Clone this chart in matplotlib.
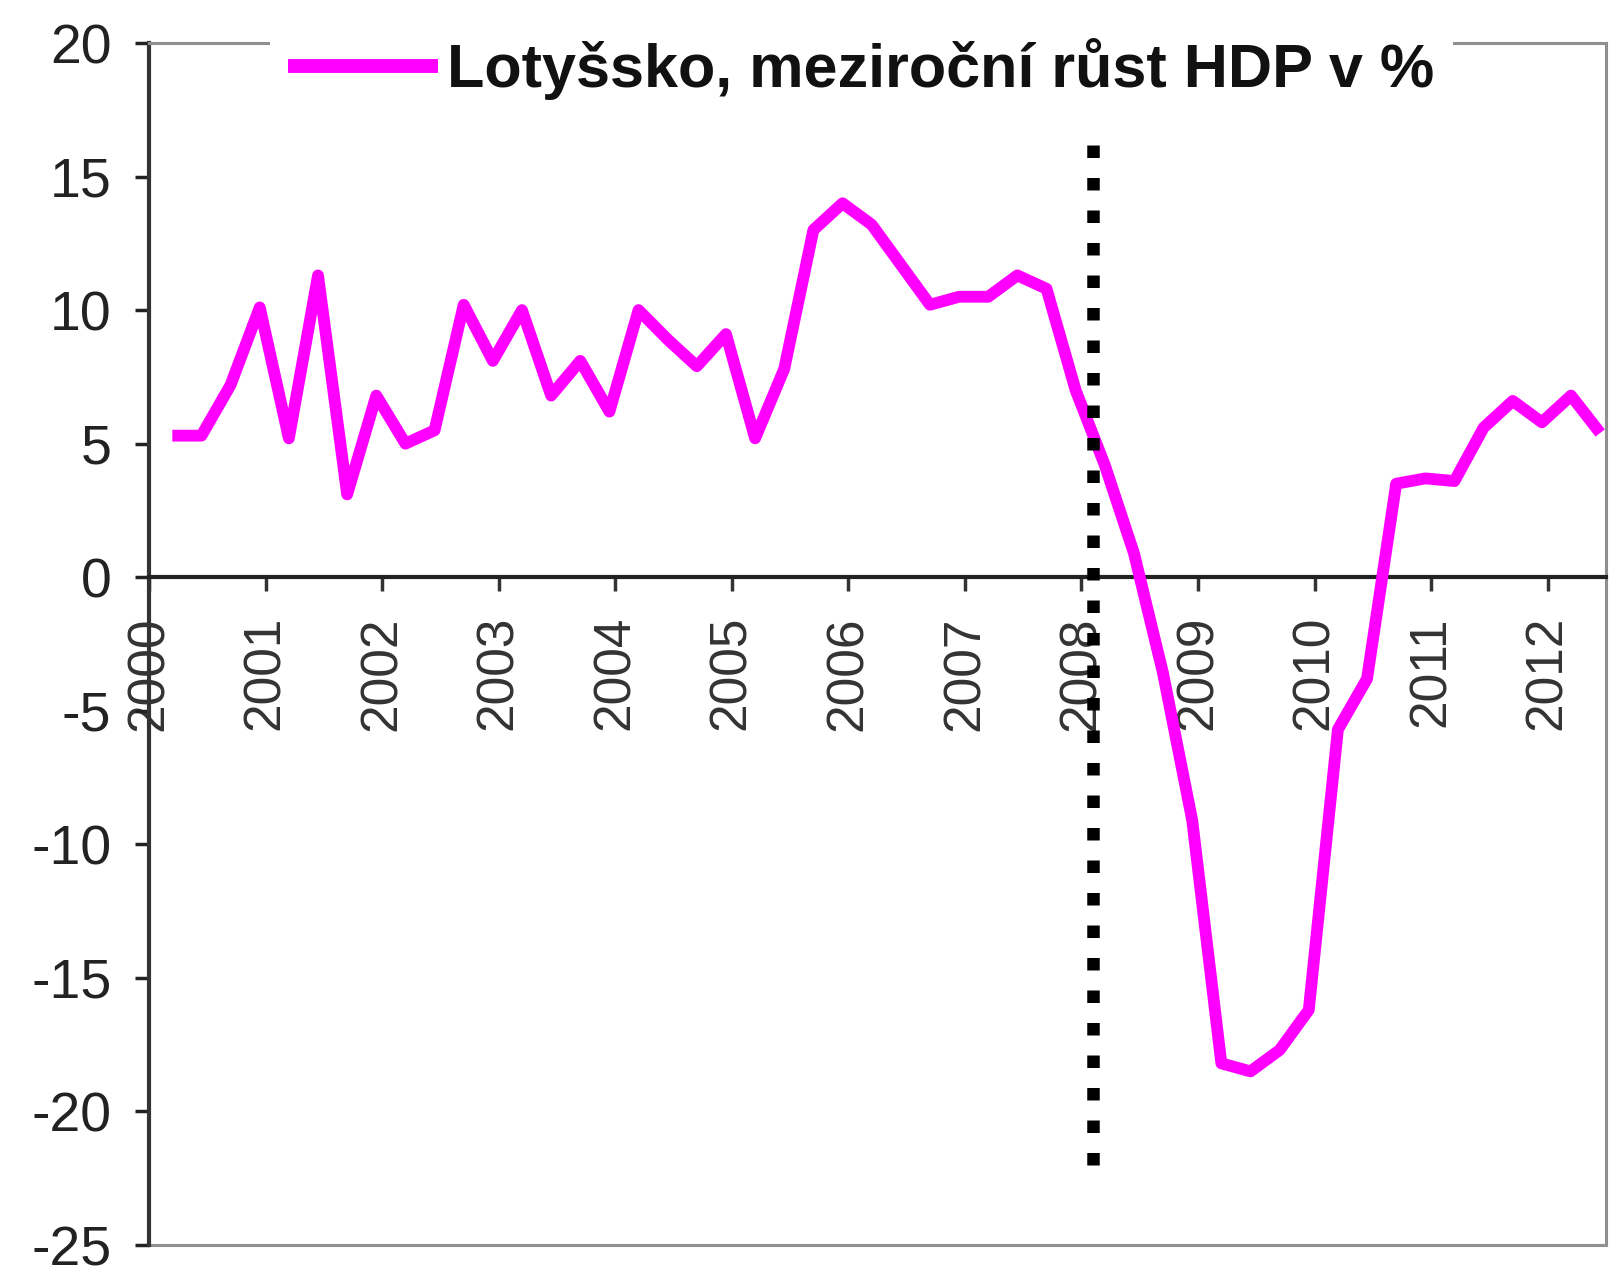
import numpy as np
import matplotlib.pyplot as plt

plt.rcParams['font.family'] = ['Liberation Sans', 'DejaVu Sans']
plt.rcParams['axes.unicode_minus'] = False

# quarterly GDP growth, y/y %, 2000Q1 .. 2012Q2
gdp = [5.3, 5.3, 7.2, 10.1, 5.2, 11.3, 3.1, 6.8, 5.0, 5.5,
       10.2, 8.1, 10.0, 6.8, 8.1, 6.2, 10.0, 8.9, 7.9, 9.1,
       5.2, 7.8, 13.0, 14.0, 13.2, 11.7, 10.2, 10.5, 10.5, 11.3,
       10.8, 7.0, 4.2, 0.9, -3.6, -9.1, -18.2, -18.5, -17.7, -16.2,
       -5.7, -3.8, 3.5, 3.7, 3.6, 5.6, 6.6, 5.8, 6.8, 5.4]
start_year = 2000
years = list(range(2000, 2013))
yticks = [20, 15, 10, 5, 0, -5, -10, -15, -20, -25]
label = 'Lotyšsko, meziroční růst HDP v %'

# crisis marker
crisis_x = 2008.1
crisis_span = (-22, 16.4)

x = start_year + 0.2 + np.arange(len(gdp)) / 4

fig = plt.figure(figsize=(16.14, 12.68), dpi=100)
ax = fig.add_axes([149/1614, 1 - 1245/1268, (1606 - 149)/1614, (1245 - 43)/1268])

ax.plot(x, gdp, color='#ff00ff', lw=8.5, solid_joinstyle='round',
        solid_capstyle='butt', label=label, zorder=3)
ax.plot([crisis_x, crisis_x], crisis_span, color='black', lw=9,
        linestyle=(0, (1, 1.6)), dash_capstyle='butt', zorder=4)

ax.set_xlim(2000, 2012.5)
ax.set_ylim(-25, 20)

for s in ['top', 'right']:
    ax.spines[s].set_color('#8f8f8f')
    ax.spines[s].set_linewidth(2.2)
ax.spines['left'].set_color('#333333')
ax.spines['left'].set_linewidth(3)
ax.spines['bottom'].set_position(('data', 0))
ax.spines['bottom'].set_color('#222222')
ax.spines['bottom'].set_linewidth(3)
ax.axhline(ax.get_ylim()[0], color='#8f8f8f', lw=2.2, clip_on=False)

ax.set_xticks(years)
ax.set_xticklabels([str(y) for y in years], rotation=90)
ax.set_yticks(yticks)
ax.tick_params(axis='x', direction='out', length=10, width=2.5, pad=18,
               labelsize=37, labelcolor='#333333', color='#333333')
ax.tick_params(axis='y', direction='out', length=10, width=2.5, pad=17,
               labelsize=40, labelcolor='#222222', color='#222222')

leg = ax.legend(loc='center', bbox_to_anchor=(0.489, 0.978),
                prop={'weight': 'bold', 'size': 44}, handlelength=2.45,
                handletextpad=0.15, borderpad=0.3, fancybox=False,
                frameon=True, framealpha=1)
leg.get_frame().set_edgecolor('none')
leg.get_frame().set_facecolor('white')
leg.get_lines()[0].set_linewidth(10)
for t in leg.get_texts():
    t.set_color('#111111')

fig.savefig('out.png', dpi=100)
